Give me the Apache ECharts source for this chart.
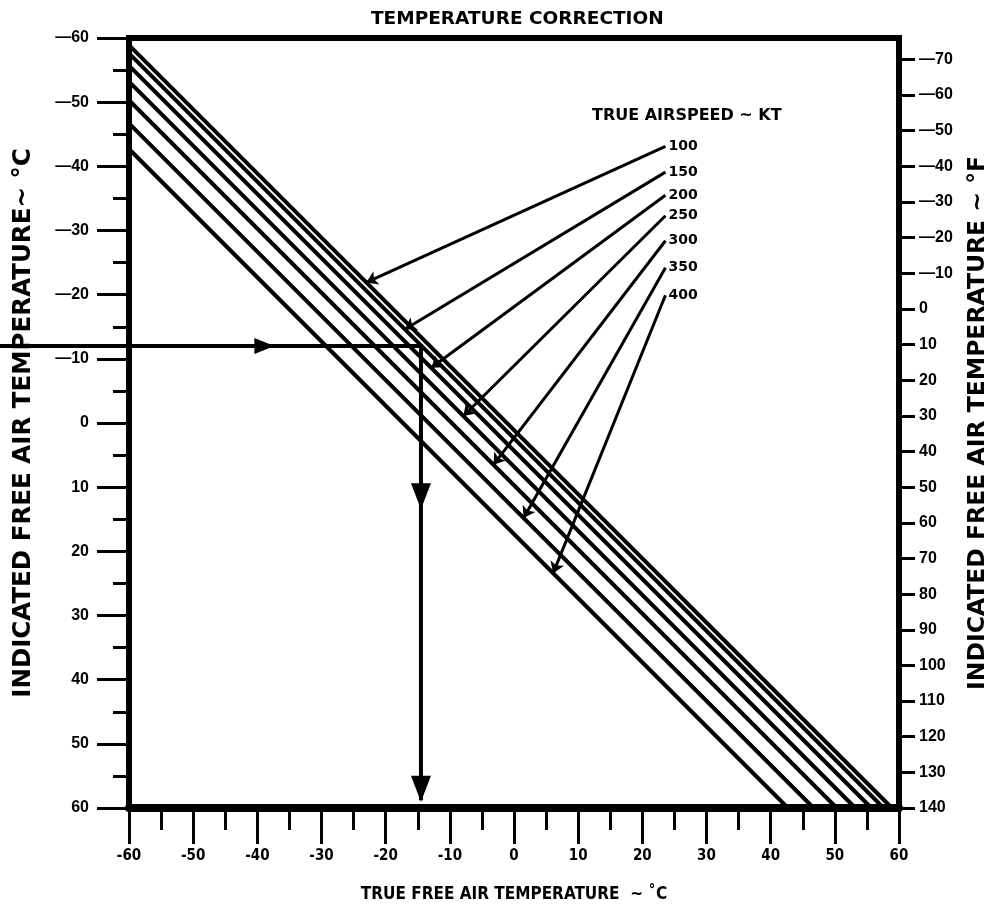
<!DOCTYPE html>
<html>
<head>
<meta charset="utf-8">
<title>Temperature Correction</title>
<script src="https://cdn.jsdelivr.net/npm/echarts@6/dist/echarts.min.js"></script>
<style>
html, body { margin: 0; padding: 0; background: #fff; }
#main { width: 997px; height: 908px; }
</style>
</head>
<body>
<div id="main"></div>
<script>
// true airspeed (kt) and the ram rise (indicated - true, °C)
var speeds = [100, 150, 200, 250, 300, 350, 400];
var ramRise = [1.1, 2.4, 4.3, 6.8, 9.7, 13.3, 17.3];

// leader arrows: true temp where each arrow touches its line
var leaderTipX = [-23.0, -17.0, -12.9, -7.9, -3.2, 1.5, 6.1];
// leader tails / speed labels (true °C, indicated °C)
var labelX = 23.6;
var labelY = [-43.1, -39.1, -35.5, -32.3, -28.4, -24.2, -19.9];

// axis ticks
var tickC = [-60, -50, -40, -30, -20, -10, 0, 10, 20, 30, 40, 50, 60];
var tickF = [-70, -60, -50, -40, -30, -20, -10, 0, 10, 20, 30, 40, 50, 60, 70, 80, 90, 100, 110, 120, 130, 140];

// worked example: indicated -12 °C  ->  true -14.5 °C
var exIndicated = -12;
var exTrue = -14.5;
var exStartX = -80.5;
var exArrowX = [-38.9];
var exArrowY = [11.4, 57.0];
var exEndY = 58.8;

var chart = echarts.init(document.getElementById('main'));

var heavy = '"DejaVu Sans", "Liberation Sans", sans-serif';
var plain = '"Liberation Sans", Arial, sans-serif';
var narrow = '"DejaVu Sans Condensed", "Liberation Sans Narrow", "Liberation Sans", sans-serif';

function dash(v) {
	return v < 0 ? '\u2014' + Math.abs(v) : String(v);
}

var series = [];

// correction lines, clipped at the frame
speeds.forEach(function(s, i) {
	var r = ramRise[i];
	series.push({
		name: s + ' KT',
		type: 'line',
		xAxisIndex: 0,
		yAxisIndex: 0,
		symbol: 'none',
		silent: true,
		lineStyle: { color: '#000', width: 4 },
		data: [[-60, -60 + r], [60 - r, 60]],
		z: 3
	});
});

// leader arrows from labels to lines
series.push({
	type: 'lines',
	coordinateSystem: 'cartesian2d',
	xAxisIndex: 0,
	yAxisIndex: 0,
	symbol: ['none', 'arrow'],
	symbolSize: 11,
	silent: true,
	lineStyle: { color: '#000', width: 3, opacity: 1 },
	data: speeds.map(function(s, i) {
		var tipY = leaderTipX[i] + ramRise[i];
		return { coords: [[labelX, labelY[i]], [leaderTipX[i], tipY]] };
	}),
	z: 4
});

// speed labels
series.push({
	type: 'scatter',
	xAxisIndex: 0,
	yAxisIndex: 0,
	symbolSize: 0,
	silent: true,
	itemStyle: { opacity: 1 },
	data: speeds.map(function(s, i) { return [labelX, labelY[i], s]; }),
	label: {
		show: true,
		position: 'right',
		distance: 3,
		formatter: function(p) { return p.value[2]; },
		color: '#000',
		fontFamily: heavy,
		fontWeight: 'bold',
		fontSize: 14
	}
});

// worked example path (runs out past the left frame)
series.push({
	type: 'lines',
	coordinateSystem: 'cartesian2d',
	xAxisIndex: 0,
	yAxisIndex: 0,
	polyline: true,
	clip: false,
	silent: true,
	symbol: 'none',
	lineStyle: { color: '#000', width: 4, opacity: 1 },
	data: [{ coords: [[exStartX, exIndicated], [exTrue, exIndicated], [exTrue, exEndY]] }],
	z: 5
});
series.push({
	type: 'scatter',
	xAxisIndex: 0,
	yAxisIndex: 0,
	symbol: 'triangle',
	symbolSize: [16, 20],
	symbolRotate: -90,
	silent: true,
	itemStyle: { color: '#000', opacity: 1 },
	data: exArrowX.map(function(x) { return [x, exIndicated]; }),
	z: 6
});
series.push({
	type: 'scatter',
	xAxisIndex: 0,
	yAxisIndex: 0,
	symbol: 'triangle',
	symbolSize: [20, 26],
	symbolRotate: 180,
	silent: true,
	itemStyle: { color: '#000', opacity: 1 },
	data: exArrowY.map(function(y) { return [exTrue, y]; }),
	z: 6
});

var option = {
	backgroundColor: '#fff',
	animation: false,
	title: {
		text: 'TEMPERATURE CORRECTION',
		left: 366,
		top: 5,
		textStyle: { fontFamily: heavy, fontWeight: 'bold', fontSize: 18.5, color: '#000' }
	},
	graphic: [{
		type: 'text',
		left: 592,
		top: 108,
		style: {
			text: 'TRUE AIRSPEED ~ KT',
			fontFamily: heavy,
			fontWeight: 'bold',
			fontSize: 16,
			fill: '#000'
		}
	}],
	grid: {
		left: 129,
		right: 98,
		top: 38,
		bottom: 100,
		outerBoundsMode: 'none',
		containLabel: false,
		show: true,
		borderColor: '#000',
		borderWidth: 6,
		backgroundColor: '#fff'
	},
	xAxis: {
		type: 'value',
		min: -60,
		max: 60,
		interval: 10,
		name: 'TRUE FREE AIR TEMPERATURE  ~ \u02daC',
		nameLocation: 'middle',
		nameGap: 78,
		nameTextStyle: { fontFamily: narrow, fontWeight: 'bold', fontSize: 17, color: '#000' },
		splitLine: { show: false },
		axisLine: { show: true, onZero: false, lineStyle: { color: '#000', width: 8 } },
		axisTick: { show: true, length: 36, lineStyle: { color: '#000', width: 3 } },
		minorTick: { show: true, splitNumber: 2, length: 22, lineStyle: { color: '#000', width: 3 } },
		axisLabel: {
			margin: 41,
			color: '#000',
			fontFamily: narrow,
			fontWeight: 'bold',
			fontSize: 15
		}
	},
	yAxis: [{
		type: 'value',
		inverse: true,
		min: -60,
		max: 60,
		interval: 10,
		name: 'INDICATED FREE AIR TEMPERATURE~ \u00b0C',
		nameLocation: 'middle',
		nameRotate: 90,
		nameGap: 93,
		nameTextStyle: { fontFamily: heavy, fontWeight: 'bold', fontSize: 24.5, color: '#000' },
		splitLine: { show: false },
		axisLine: { show: true, onZero: false, lineStyle: { color: '#000', width: 6 } },
		axisTick: { show: true, length: 32, lineStyle: { color: '#000', width: 3 } },
		minorTick: { show: true, splitNumber: 2, length: 16, lineStyle: { color: '#000', width: 3 } },
		axisLabel: {
			margin: 40,
			color: '#000',
			fontFamily: plain,
			fontWeight: 'bold',
			fontSize: 16,
			customValues: tickC,
			formatter: dash
		}
	}, {
		type: 'value',
		position: 'right',
		inverse: true,
		min: -76,
		max: 140,
		name: 'INDICATED FREE AIR TEMPERATURE ~ \u00b0F',
		nameLocation: 'middle',
		nameRotate: 90,
		nameGap: 67,
		nameTextStyle: { fontFamily: heavy, fontWeight: 'bold', fontSize: 23.5, color: '#000' },
		splitLine: { show: false },
		axisLine: { show: true, onZero: false, lineStyle: { color: '#000', width: 6 } },
		axisTick: { show: true, length: 16, customValues: tickF, lineStyle: { color: '#000', width: 3 } },
		axisLabel: {
			margin: 20,
			color: '#000',
			fontFamily: plain,
			fontWeight: 'bold',
			fontSize: 16,
			customValues: tickF,
			formatter: dash
		}
	}],
	series: series
};

chart.setOption(option);
</script>
</body>
</html>
